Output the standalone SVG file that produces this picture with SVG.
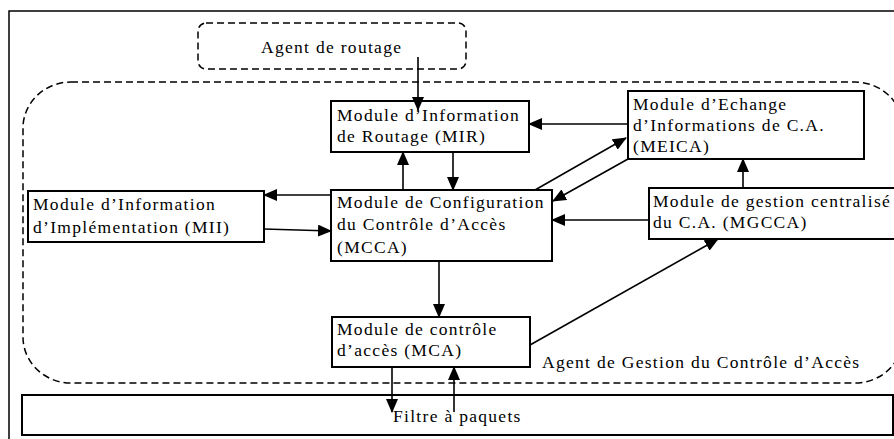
<svg xmlns="http://www.w3.org/2000/svg" width="894" height="439" viewBox="0 0 894 439">
  <style>
    .box { fill: #fff; stroke: #000; stroke-width: 2; }
    .dash { fill: none; stroke: #000; stroke-width: 1.5; stroke-dasharray: 7 4; }
    .frame { fill: none; stroke: #000; stroke-width: 1.5; }
    .lbl { font-family: "Liberation Serif", "Times New Roman", serif; font-size: 17.5px; letter-spacing: 1.3px; fill: #000; }
    .edge { stroke: #000; stroke-width: 1.6; fill: none; marker-end: url(#arrow); }
  </style>
  <defs>
    <marker id="arrow" viewBox="0 0 14 12" refX="13" refY="6" markerWidth="14" markerHeight="12" markerUnits="userSpaceOnUse" orient="auto">
      <path d="M0,0 L14,6 L0,12 Z" fill="#000"/>
    </marker>
  </defs>

  <rect x="0" y="0" width="894" height="439" fill="#fff"/>

  <!-- outer frame -->
  <rect class="frame" x="9" y="11" width="900" height="440"/>

  <!-- management agent region -->
  <g id="agent-gestion">
    <rect class="dash" x="23" y="82" width="880" height="301" rx="48" ry="46"/>
    <text class="lbl" x="542" y="368">Agent de Gestion du Contrôle d’Accès</text>
  </g>

  <g id="agent-routage">
    <rect class="dash" x="198" y="23" width="268" height="46" rx="8" ry="8" fill="#fff"/>
    <text class="lbl" x="261" y="53">Agent de routage</text>
  </g>

  <g id="filtre">
    <rect class="box" x="22" y="395" width="871" height="40"/>
    <text class="lbl" x="393" y="422">Filtre à paquets</text>
  </g>

  <g id="mir">
    <rect class="box" x="331" y="101" width="198" height="51"/>
    <text class="lbl" x="337" y="121">Module d’Information</text>
    <text class="lbl" x="337" y="142">de Routage (MIR)</text>
  </g>

  <g id="meica">
    <rect class="box" x="628" y="91" width="236" height="68"/>
    <text class="lbl" x="633" y="110">Module d’Echange</text>
    <text class="lbl" x="633" y="131">d’Informations de C.A.</text>
    <text class="lbl" x="633" y="152">(MEICA)</text>
  </g>

  <g id="mii">
    <rect class="box" x="28" y="191" width="236" height="51"/>
    <text class="lbl" x="33" y="210">Module d’Information</text>
    <text class="lbl" x="33" y="233">d’Implémentation (MII)</text>
  </g>

  <g id="mcca">
    <rect class="box" x="331" y="190" width="221" height="71"/>
    <text class="lbl" x="337" y="208">Module de Configuration</text>
    <text class="lbl" x="337" y="230">du Contrôle d’Accès</text>
    <text class="lbl" x="337" y="253">(MCCA)</text>
  </g>

  <g id="mgcca">
    <rect class="box" x="649" y="188" width="260" height="51"/>
    <text class="lbl" x="653" y="207">Module de gestion centralisé</text>
    <text class="lbl" x="653" y="228">du C.A. (MGCCA)</text>
  </g>

  <g id="mca">
    <rect class="box" x="332" y="317" width="198" height="50"/>
    <text class="lbl" x="337" y="335">Module de contrôle</text>
    <text class="lbl" x="337" y="356">d’accès (MCA)</text>
  </g>

  <!-- connectors -->
  <g id="connectors">
    <line class="edge" x1="418" y1="57" x2="418" y2="110"/>
    <line class="edge" x1="403" y1="190" x2="403" y2="152"/>
    <line class="edge" x1="453" y1="152" x2="453" y2="190"/>
    <line class="edge" x1="628" y1="124" x2="529" y2="124"/>
    <line class="edge" x1="535" y1="190" x2="626" y2="138"/>
    <line class="edge" x1="628" y1="159" x2="553" y2="201"/>
    <line class="edge" x1="331" y1="195" x2="264" y2="195"/>
    <line class="edge" x1="264" y1="229" x2="331" y2="231"/>
    <line class="edge" x1="649" y1="220" x2="552" y2="220"/>
    <line class="edge" x1="743" y1="188" x2="743" y2="159"/>
    <line class="edge" x1="439" y1="261" x2="439" y2="317"/>
    <line class="edge" x1="530" y1="345" x2="718" y2="239"/>
    <line class="edge" x1="392" y1="367" x2="392" y2="412"/>
    <line class="edge" x1="454" y1="412" x2="454" y2="367"/>
  </g>
</svg>
